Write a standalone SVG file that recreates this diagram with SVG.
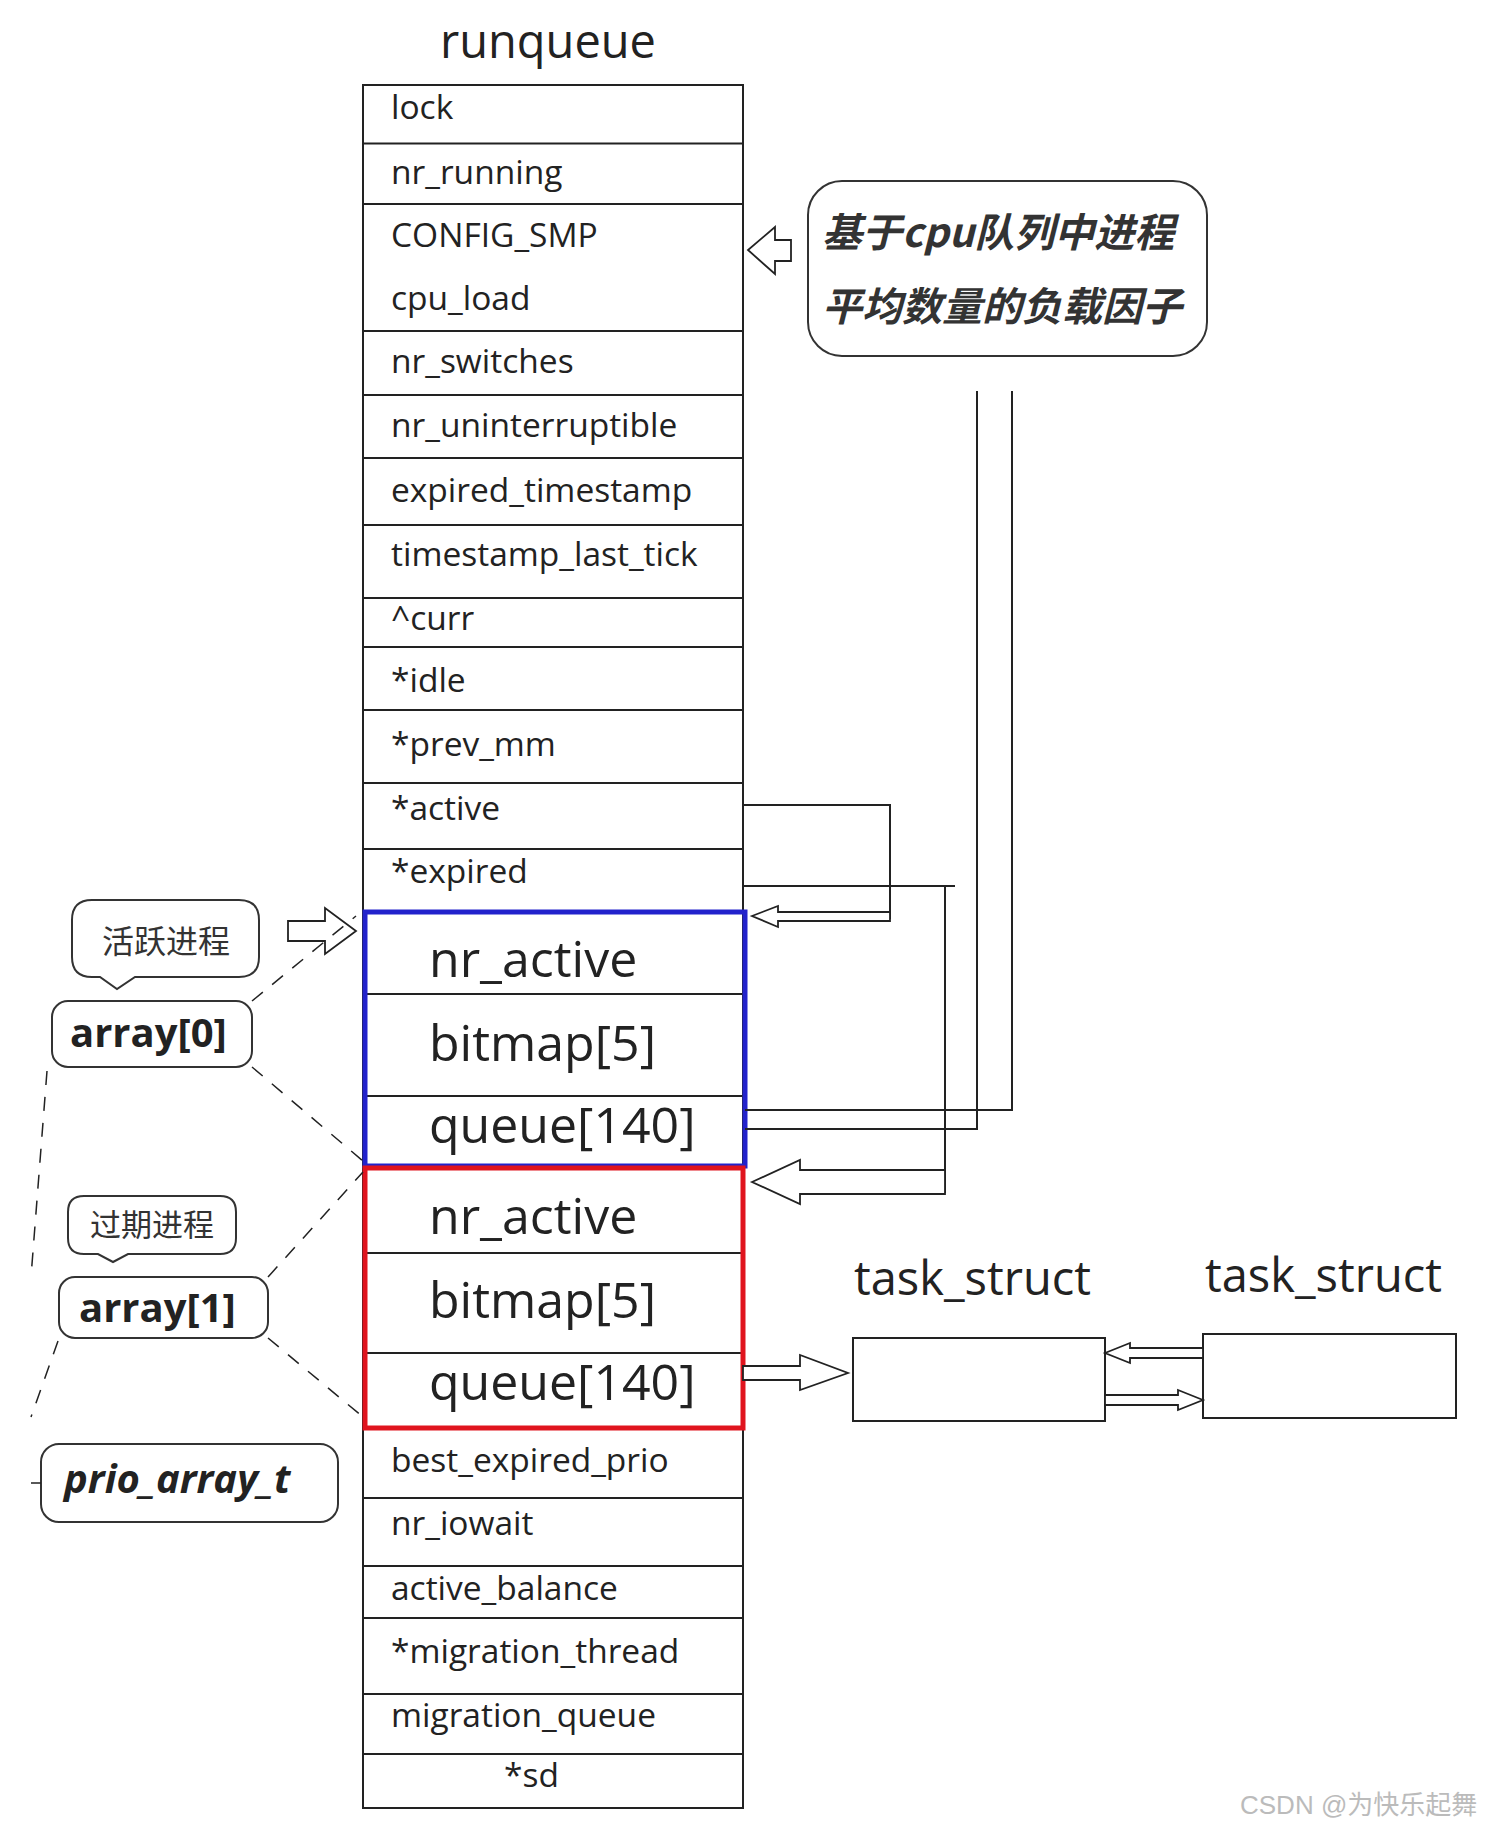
<svg xmlns="http://www.w3.org/2000/svg" width="1493" height="1831" viewBox="0 0 1493 1831">
<style>
.t{font-family:"Open Sans","DejaVu Sans",sans-serif;font-size:33.5px;fill:#222}
.b{font-family:"Open Sans","DejaVu Sans",sans-serif;font-size:50px;fill:#222}
.cj{font-family:"Noto Sans CJK SC",sans-serif;fill:#333}
.ln{stroke:#222;stroke-width:2;fill:none}
.ds{stroke:#222;stroke-width:1.5;fill:none;stroke-dasharray:14 12}
.bub{stroke:#333;stroke-width:2;fill:#fff}
.ha{stroke:#222;stroke-width:1.8;fill:#fff}
</style>
<rect width="1493" height="1831" fill="#fff"/>
<text x="548" y="58" text-anchor="middle" class="t" style="font-size:47px">runqueue</text>
<g id="runqueue">
<rect x="363" y="85" width="380" height="1723" class="ln"/>
<path class="ln" d="M363 143.5H743M363 204H743M363 331H743M363 395H743M363 458H743M363 525H743M363 598H743M363 647H743M363 710H743M363 783H743M363 849H743M363 1498H743M363 1566H743M363 1618H743M363 1694H743M363 1754H743"/>
<text class="t" x="391" y="119">lock</text>
<text class="t" x="391" y="184">nr_running</text>
<text class="t" x="391" y="247">CONFIG_SMP</text>
<text class="t" x="391" y="310">cpu_load</text>
<text class="t" x="391" y="373">nr_switches</text>
<text class="t" x="391" y="437">nr_uninterruptible</text>
<text class="t" x="391" y="502">expired_timestamp</text>
<text class="t" x="391" y="566">timestamp_last_tick</text>
<text class="t" x="391" y="630">^curr</text>
<text class="t" x="391" y="692">*idle</text>
<text class="t" x="391" y="756">*prev_mm</text>
<text class="t" x="391" y="820">*active</text>
<text class="t" x="391" y="883">*expired</text>
<text class="t" x="391" y="1472">best_expired_prio</text>
<text class="t" x="391" y="1535">nr_iowait</text>
<text class="t" x="391" y="1600">active_balance</text>
<text class="t" x="391" y="1663">*migration_thread</text>
<text class="t" x="391" y="1727">migration_queue</text>
<text class="t" x="504" y="1787">*sd</text>
</g>
<g id="array0">
<path class="ln" d="M363 994H745M363 1096H745"/>
<rect x="365" y="912" width="380" height="254" fill="none" stroke="#2222cc" stroke-width="5"/>
<text class="b" x="429" y="977">nr_active</text>
<text class="b" x="429" y="1061">bitmap[5]</text>
<text class="b" x="429" y="1143">queue[140]</text>
</g>
<g id="array1">
<path class="ln" d="M363 1253H743M363 1353H743"/>
<rect x="365" y="1168" width="378" height="260" fill="none" stroke="#e0141e" stroke-width="5"/>
<text class="b" x="429" y="1234">nr_active</text>
<text class="b" x="429" y="1318">bitmap[5]</text>
<text class="b" x="429" y="1400">queue[140]</text>
</g>
<g id="loadnote">
<rect x="808" y="181" width="399" height="175" rx="34" class="bub"/>
<text class="cj" x="822" y="247" style="font-size:40px;font-weight:bold;font-style:italic">基于cpu队列中进程</text>
<text class="cj" x="822" y="321" style="font-size:40px;font-weight:bold;font-style:italic">平均数量的负载因子</text>
</g>
<g id="task1">
<text class="t" x="854" y="1295" style="font-size:47px">task_struct</text>
<rect x="853" y="1338" width="252" height="83" class="ln"/>
</g>
<g id="task2">
<text class="t" x="1205" y="1292" style="font-size:47px">task_struct</text>
<rect x="1203" y="1334" width="253" height="84" class="ln"/>
</g>
<g id="active_lbl">
<path class="bub" d="M92 900H239Q259 900 259 920V957Q259 977 239 977H135L117 989L100 977H92Q72 977 72 957V920Q72 900 92 900Z"/>
<text class="cj" x="166" y="953" text-anchor="middle" style="font-size:32px">活跃进程</text>
</g>
<g id="expired_lbl">
<path class="bub" d="M84 1196H220Q236 1196 236 1212V1238Q236 1254 220 1254H128L113 1262L98 1254H84Q68 1254 68 1238V1212Q68 1196 84 1196Z"/>
<text class="cj" x="152" y="1236" text-anchor="middle" style="font-size:31px">过期进程</text>
</g>
<g id="a0">
<rect x="52" y="1001" width="200" height="66" rx="16" class="bub"/>
<text class="t" x="70" y="1047" style="font-size:40px;font-weight:bold">array[0]</text>
</g>
<g id="a1">
<rect x="59" y="1277" width="209" height="61" rx="16" class="bub"/>
<text class="t" x="79" y="1322" style="font-size:40px;font-weight:bold">array[1]</text>
</g>
<g id="prio">
<rect x="41" y="1444" width="297" height="78" rx="18" class="bub"/>
<text class="t" x="64" y="1493" style="font-size:40px;font-weight:bold;font-style:italic">prio_array_t</text>
</g>
<g id="connectors">
<path class="ln" d="M745 1110H1012V391M745 1129H977V391"/>
<path class="ln" d="M743 805H890V919"/>
<path class="ln" d="M743 886H955M945 886V1193"/>
<path class="ha" d="M752 916L778 906V912H890V921H778V927Z"/>
<path class="ha" d="M752 1182L800 1160V1170H945V1194H800V1204Z"/>
<path class="ha" d="M791 240H775V227L748 250L775 274V261H791Z"/>
<path class="ha" d="M743 1366H800V1355L848 1373L800 1390V1380H743Z"/>
<path class="ha" d="M1105 1353L1130 1343V1348H1203V1358H1130V1363Z"/>
<path class="ha" d="M1203 1400L1178 1390V1395H1105V1405H1178V1410Z"/>
<path class="ha" d="M288 921H325V908L356 931L325 954V941H288Z"/>
<path class="ds" d="M252 1001L356 916M252 1067L363 1161M268 1277L363 1172M268 1338L363 1417M47 1071L31 1277M58 1341L31 1417M31 1483H41"/>
</g>
<text x="1240" y="1814" style="font-family:'Liberation Sans','Noto Sans CJK SC',sans-serif;font-size:26px;fill:#bbb">CSDN @为快乐起舞</text>
</svg>
